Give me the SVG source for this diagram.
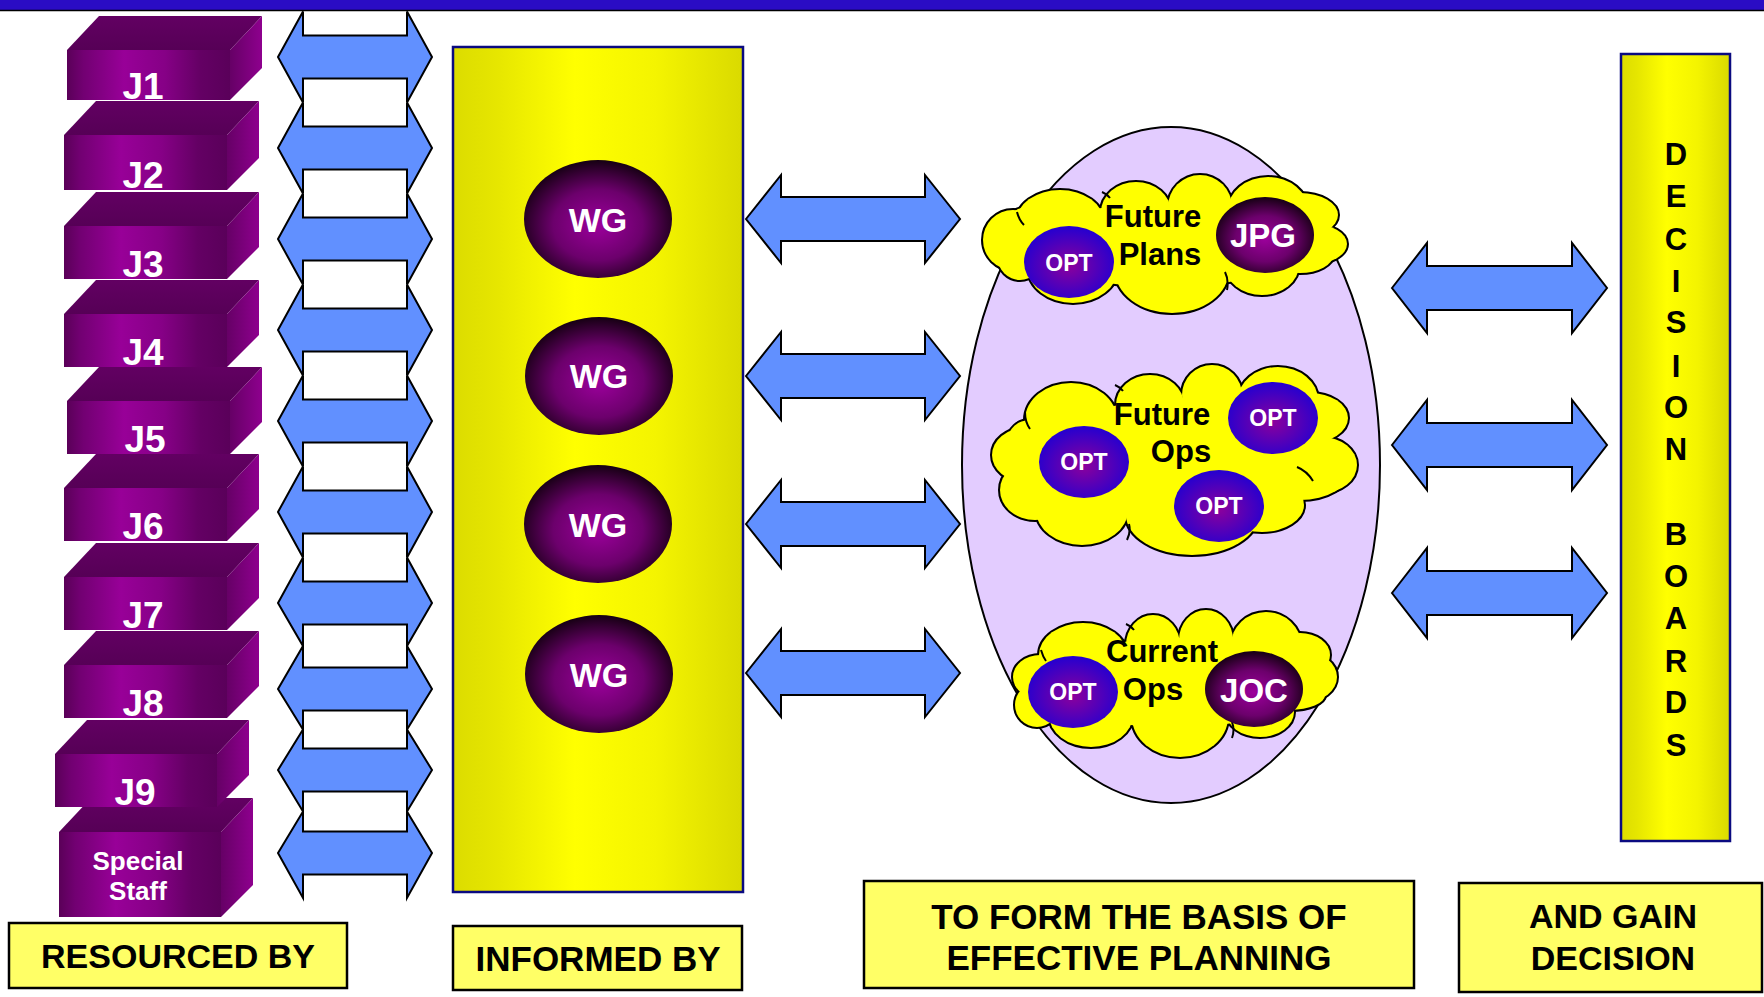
<svg xmlns="http://www.w3.org/2000/svg" xmlns:xlink="http://www.w3.org/1999/xlink" width="1764" height="997" viewBox="0 0 1764 997">
<defs>
<style>
.t{font-family:"Liberation Sans",Arial,Helvetica,sans-serif;font-weight:bold}
.w{fill:#fff}
.k{fill:#000}
.arrow{fill:#6190FF;stroke:#000;stroke-width:2;stroke-linejoin:miter}
.lbl{fill:#FFFF66;stroke:#000;stroke-width:2.5}
.panel{fill:url(#yel);stroke:#0a0a80;stroke-width:2.5}
.bt{fill:url(#ptop)}
.bf{fill:url(#pfront)}
.bs{fill:url(#pside)}
.cs{stroke:#000;stroke-width:4;fill:#FFFF00}
.cf{fill:#FFFF00}
.curl{fill:none;stroke:#000;stroke-width:2}
.wg{fill:url(#wgg)}
.opt{fill:url(#optg)}
</style>
<linearGradient id="yel" x1="0" y1="0" x2="1" y2="0">
<stop offset="0" stop-color="#dcdc00"/><stop offset="0.15" stop-color="#e6e600"/><stop offset="0.42" stop-color="#ffff00"/><stop offset="0.7" stop-color="#f4f400"/><stop offset="1" stop-color="#dada00"/>
</linearGradient>
<linearGradient id="pfront" x1="0" y1="0" x2="1" y2="0">
<stop offset="0" stop-color="#5a0058"/><stop offset="0.1" stop-color="#720072"/><stop offset="0.35" stop-color="#980098"/><stop offset="0.6" stop-color="#860086"/><stop offset="0.82" stop-color="#640064"/><stop offset="1" stop-color="#5a005a"/>
</linearGradient>
<linearGradient id="ptop" x1="0" y1="0" x2="0" y2="1">
<stop offset="0" stop-color="#620062"/><stop offset="1" stop-color="#560056"/>
</linearGradient>
<linearGradient id="pside" x1="0" y1="0" x2="1" y2="0">
<stop offset="0" stop-color="#660066"/><stop offset="1" stop-color="#8e008e"/>
</linearGradient>
<radialGradient id="wgg" cx="0.5" cy="0.55" r="0.55">
<stop offset="0" stop-color="#9c009c"/><stop offset="0.55" stop-color="#6c006c"/><stop offset="1" stop-color="#150012"/>
</radialGradient>
<radialGradient id="optg" cx="0.5" cy="0.55" r="0.55">
<stop offset="0" stop-color="#8c009c"/><stop offset="1" stop-color="#2400d0"/>
</radialGradient>
<g id="cloud1">
<ellipse cx="1013" cy="240" rx="30" ry="30"/><ellipse cx="1020" cy="258" rx="22" ry="22"/><ellipse cx="1073" cy="268" rx="45" ry="35"/><ellipse cx="1172" cy="270" rx="57" ry="43"/><ellipse cx="1262" cy="265" rx="37" ry="30"/><ellipse cx="1300" cy="255" rx="33" ry="18"/><ellipse cx="1312" cy="244" rx="35" ry="20"/><ellipse cx="1300" cy="215" rx="38" ry="22"/><ellipse cx="1268" cy="210" rx="40" ry="33"/><ellipse cx="1200" cy="207" rx="32" ry="32"/><ellipse cx="1136" cy="212" rx="35" ry="30"/><ellipse cx="1060" cy="222" rx="44" ry="32"/><ellipse cx="1030" cy="225" rx="25" ry="18"/><ellipse cx="1165" cy="245" rx="135" ry="42"/>
</g>
<g id="cloud2">
<ellipse cx="1025" cy="455" rx="33" ry="27"/><ellipse cx="1035" cy="490" rx="35" ry="30"/><ellipse cx="1082" cy="510" rx="46" ry="35"/><ellipse cx="1192" cy="515" rx="66" ry="40"/><ellipse cx="1300" cy="470" rx="50" ry="30"/><ellipse cx="1262" cy="505" rx="42" ry="27"/><ellipse cx="1322" cy="465" rx="35" ry="28"/><ellipse cx="1310" cy="418" rx="38" ry="25"/><ellipse cx="1278" cy="400" rx="40" ry="33"/><ellipse cx="1212" cy="395" rx="30" ry="30"/><ellipse cx="1150" cy="405" rx="34" ry="30"/><ellipse cx="1071" cy="420" rx="46" ry="37"/><ellipse cx="1030" cy="440" rx="22" ry="20"/><ellipse cx="1175" cy="460" rx="140" ry="60"/>
</g>
<g id="cloud3">
<ellipse cx="1083" cy="655" rx="44" ry="32"/><ellipse cx="1153" cy="645" rx="27" ry="30"/><ellipse cx="1206" cy="640" rx="27" ry="30"/><ellipse cx="1266" cy="645" rx="35" ry="33"/><ellipse cx="1300" cy="655" rx="30" ry="22"/><ellipse cx="1305" cy="677" rx="32" ry="25"/><ellipse cx="1290" cy="695" rx="35" ry="15"/><ellipse cx="1260" cy="712" rx="34" ry="25"/><ellipse cx="1180" cy="717" rx="48" ry="40"/><ellipse cx="1091" cy="715" rx="42" ry="32"/><ellipse cx="1037" cy="705" rx="22" ry="22"/><ellipse cx="1040" cy="677" rx="27" ry="22"/><ellipse cx="1175" cy="683" rx="125" ry="45"/>
</g>
</defs>
<rect x="0" y="0" width="1764" height="997" fill="#fff"/>

<g id="connectors">
<polygon class="arrow" points="278,57 303,11.5 303,35.5 407,35.5 407,11.5 432,57 407,102.5 407,78.5 303,78.5 303,102.5"/>
<polygon class="arrow" points="278,148 303,102.5 303,126.5 407,126.5 407,102.5 432,148 407,193.5 407,169.5 303,169.5 303,193.5"/>
<polygon class="arrow" points="278,239 303,193.5 303,217.5 407,217.5 407,193.5 432,239 407,284.5 407,260.5 303,260.5 303,284.5"/>
<polygon class="arrow" points="278,330 303,284.5 303,308.5 407,308.5 407,284.5 432,330 407,375.5 407,351.5 303,351.5 303,375.5"/>
<polygon class="arrow" points="278,421 303,375.5 303,399.5 407,399.5 407,375.5 432,421 407,466.5 407,442.5 303,442.5 303,466.5"/>
<polygon class="arrow" points="278,512 303,466.5 303,490.5 407,490.5 407,466.5 432,512 407,557.5 407,533.5 303,533.5 303,557.5"/>
<polygon class="arrow" points="278,603 303,557.5 303,581.5 407,581.5 407,557.5 432,603 407,646 407,624.5 303,624.5 303,646"/>
<polygon class="arrow" points="278,689 303,646 303,667.5 407,667.5 407,646 432,689 407,729.5 407,710.5 303,710.5 303,729.5"/>
<polygon class="arrow" points="278,770 303,729.5 303,748.5 407,748.5 407,729.5 432,770 407,811.5 407,791.5 303,791.5 303,811.5"/>
<polygon class="arrow" points="278,853 303,811.5 303,831.5 407,831.5 407,811.5 432,853 407,898 407,874.5 303,874.5 303,898"/>
<polygon class="arrow" points="746,219 781,175 781,197 925,197 925,175 960,219 925,263 925,241 781,241 781,263"/>
<polygon class="arrow" points="746,376 781,332 781,354 925,354 925,332 960,376 925,420 925,398 781,398 781,420"/>
<polygon class="arrow" points="746,524 781,480 781,502 925,502 925,480 960,524 925,568 925,546 781,546 781,568"/>
<polygon class="arrow" points="746,673 781,629 781,651 925,651 925,629 960,673 925,717 925,695 781,695 781,717"/>
<polygon class="arrow" points="1392,288 1427,243 1427,266 1572,266 1572,243 1607,288 1572,333 1572,310 1427,310 1427,333"/>
<polygon class="arrow" points="1392,445 1427,400 1427,423 1572,423 1572,400 1607,445 1572,490 1572,467 1427,467 1427,490"/>
<polygon class="arrow" points="1392,593 1427,548 1427,571 1572,571 1572,548 1607,593 1572,638 1572,615 1427,615 1427,638"/>
</g>

<g id="topbar">
<rect x="0" y="0" width="1764" height="10" fill="#2A0CC4"/>
<line x1="0" y1="10.6" x2="1764" y2="10.6" stroke="#000" stroke-width="1.5"/>
</g>

<g id="box-special-staff">
<polygon class="bt" points="59,832 91,798 253,798 221,832"/>
<rect class="bf" x="59" y="832" width="162" height="85"/>
<polygon class="bs" points="221,832 253,798 253,885 221,917"/>
<text class="t w" x="138" y="870" font-size="26" text-anchor="middle">Special</text>
<text class="t w" x="138" y="900" font-size="26" text-anchor="middle">Staff</text>
</g>
<g id="box-j1">
<polygon class="bt" points="67,50 99,16 262,16 230,50"/>
<rect class="bf" x="67" y="50" width="163" height="50"/>
<polygon class="bs" points="230,50 262,16 262,68 230,100"/>
<text class="t w" x="143" y="99" font-size="37" text-anchor="middle">J1</text>
</g>
<g id="box-j2">
<polygon class="bt" points="64,135 96,101 259,101 227,135"/>
<rect class="bf" x="64" y="135" width="163" height="55"/>
<polygon class="bs" points="227,135 259,101 259,158 227,190"/>
<text class="t w" x="143" y="188" font-size="37" text-anchor="middle">J2</text>
</g>
<g id="box-j3">
<polygon class="bt" points="64,226 96,192 259,192 227,226"/>
<rect class="bf" x="64" y="226" width="163" height="53"/>
<polygon class="bs" points="227,226 259,192 259,247 227,279"/>
<text class="t w" x="143" y="277" font-size="37" text-anchor="middle">J3</text>
</g>
<g id="box-j4">
<polygon class="bt" points="64,314 96,280 259,280 227,314"/>
<rect class="bf" x="64" y="314" width="163" height="53"/>
<polygon class="bs" points="227,314 259,280 259,335 227,367"/>
<text class="t w" x="143" y="365" font-size="37" text-anchor="middle">J4</text>
</g>
<g id="box-j5">
<polygon class="bt" points="67,401 99,367 262,367 230,401"/>
<rect class="bf" x="67" y="401" width="163" height="53"/>
<polygon class="bs" points="230,401 262,367 262,422 230,454"/>
<text class="t w" x="145" y="452" font-size="37" text-anchor="middle">J5</text>
</g>
<g id="box-j6">
<polygon class="bt" points="64,488 96,454 259,454 227,488"/>
<rect class="bf" x="64" y="488" width="163" height="53"/>
<polygon class="bs" points="227,488 259,454 259,509 227,541"/>
<text class="t w" x="143" y="539" font-size="37" text-anchor="middle">J6</text>
</g>
<g id="box-j7">
<polygon class="bt" points="64,577 96,543 259,543 227,577"/>
<rect class="bf" x="64" y="577" width="163" height="53"/>
<polygon class="bs" points="227,577 259,543 259,598 227,630"/>
<text class="t w" x="143" y="628" font-size="37" text-anchor="middle">J7</text>
</g>
<g id="box-j8">
<polygon class="bt" points="64,665 96,631 259,631 227,665"/>
<rect class="bf" x="64" y="665" width="163" height="53"/>
<polygon class="bs" points="227,665 259,631 259,686 227,718"/>
<text class="t w" x="143" y="716" font-size="37" text-anchor="middle">J8</text>
</g>
<g id="box-j9">
<polygon class="bt" points="55,754 87,720 249,720 217,754"/>
<rect class="bf" x="55" y="754" width="162" height="53"/>
<polygon class="bs" points="217,754 249,720 249,775 217,807"/>
<text class="t w" x="135" y="805" font-size="37" text-anchor="middle">J9</text>
</g>

<g id="informed-panel">
<rect class="panel" x="453" y="47" width="290" height="845"/>
</g>
<g id="wg1"><ellipse class="wg" cx="598" cy="219" rx="74" ry="59"/><text class="t w" x="598" y="232" font-size="34" text-anchor="middle">WG</text></g>
<g id="wg2"><ellipse class="wg" cx="599" cy="376" rx="74" ry="59"/><text class="t w" x="599" y="388" font-size="34" text-anchor="middle">WG</text></g>
<g id="wg3"><ellipse class="wg" cx="598" cy="524" rx="74" ry="59"/><text class="t w" x="598" y="537" font-size="34" text-anchor="middle">WG</text></g>
<g id="wg4"><ellipse class="wg" cx="599" cy="674" rx="74" ry="59"/><text class="t w" x="599" y="687" font-size="34" text-anchor="middle">WG</text></g>

<g id="planning-ellipse">
<ellipse cx="1171" cy="465" rx="209" ry="338" fill="#E3CCFF" stroke="#000" stroke-width="2"/>
</g>

<g id="cloud-future-plans">
<use xlink:href="#cloud1" class="cs"/>
<use xlink:href="#cloud1" class="cf"/>
<path class="curl" d="M1017,212 q2,8 7,13 M1102,192 q5,2 8,6 M1270,258 q5,-6 12,-8 M1227,290 q2,-10 -2,-18"/>
<ellipse class="opt" cx="1069" cy="262" rx="45" ry="36"/>
<text class="t w" x="1069" y="271" font-size="23" text-anchor="middle">OPT</text>
<ellipse class="wg" cx="1265" cy="235" rx="49" ry="38"/>
<text class="t w" x="1263" y="247" font-size="33" text-anchor="middle">JPG</text>
<text class="t k" x="1153" y="227" font-size="31" text-anchor="middle">Future</text>
<text class="t k" x="1160" y="265" font-size="31" text-anchor="middle">Plans</text>
</g>

<g id="cloud-future-ops">
<use xlink:href="#cloud2" class="cs"/>
<use xlink:href="#cloud2" class="cf"/>
<path class="curl" d="M1025,412 q0,10 5,17 M1115,385 q5,2 8,6 M1297,467 q10,4 16,14 M1127,540 q4,-8 2,-16"/>
<ellipse class="opt" cx="1084" cy="462" rx="45" ry="36"/>
<text class="t w" x="1084" y="470" font-size="23" text-anchor="middle">OPT</text>
<ellipse class="opt" cx="1273" cy="418" rx="45" ry="36"/>
<text class="t w" x="1273" y="426" font-size="23" text-anchor="middle">OPT</text>
<ellipse class="opt" cx="1219" cy="506" rx="45" ry="36"/>
<text class="t w" x="1219" y="514" font-size="23" text-anchor="middle">OPT</text>
<text class="t k" x="1162" y="425" font-size="31" text-anchor="middle">Future</text>
<text class="t k" x="1181" y="462" font-size="31" text-anchor="middle">Ops</text>
</g>

<g id="cloud-current-ops">
<use xlink:href="#cloud3" class="cs"/>
<use xlink:href="#cloud3" class="cf"/>
<path class="curl" d="M1041,650 q2,7 5,11 M1126,624 q5,2 8,6 M1232,738 q3,-8 0,-16"/>
<ellipse class="opt" cx="1073" cy="692" rx="45" ry="36"/>
<text class="t w" x="1073" y="700" font-size="23" text-anchor="middle">OPT</text>
<ellipse class="wg" cx="1254" cy="689" rx="49" ry="38"/>
<text class="t w" x="1254" y="702" font-size="33" text-anchor="middle">JOC</text>
<text class="t k" x="1162" y="662" font-size="31" text-anchor="middle">Current</text>
<text class="t k" x="1153" y="700" font-size="31" text-anchor="middle">Ops</text>
</g>

<g id="decision-boards">
<rect class="panel" x="1621" y="54" width="109" height="787"/>
<g class="t k" font-size="31" text-anchor="middle">
<text x="1676" y="165">D</text><text x="1676" y="207">E</text><text x="1676" y="250">C</text><text x="1676" y="292">I</text><text x="1676" y="333">S</text><text x="1676" y="377">I</text><text x="1676" y="418">O</text><text x="1676" y="460">N</text>
<text x="1676" y="545">B</text><text x="1676" y="587">O</text><text x="1676" y="629">A</text><text x="1676" y="672">R</text><text x="1676" y="713">D</text><text x="1676" y="756">S</text>
</g>
</g>

<g id="label-resourced">
<rect class="lbl" x="9" y="923" width="338" height="65"/>
<text class="t k" x="178" y="968" font-size="34" text-anchor="middle">RESOURCED BY</text>
</g>
<g id="label-informed">
<rect class="lbl" x="453" y="926" width="289" height="64"/>
<text class="t k" x="598" y="971" font-size="35" text-anchor="middle">INFORMED BY</text>
</g>
<g id="label-planning">
<rect class="lbl" x="864" y="881" width="550" height="107"/>
<text class="t k" x="1139" y="929" font-size="35" text-anchor="middle">TO FORM THE BASIS OF</text>
<text class="t k" x="1139" y="970" font-size="35" text-anchor="middle">EFFECTIVE PLANNING</text>
</g>
<g id="label-decision">
<rect class="lbl" x="1459" y="883" width="303" height="109"/>
<text class="t k" x="1613" y="928" font-size="34" text-anchor="middle">AND GAIN</text>
<text class="t k" x="1613" y="970" font-size="34" text-anchor="middle">DECISION</text>
</g>
</svg>
